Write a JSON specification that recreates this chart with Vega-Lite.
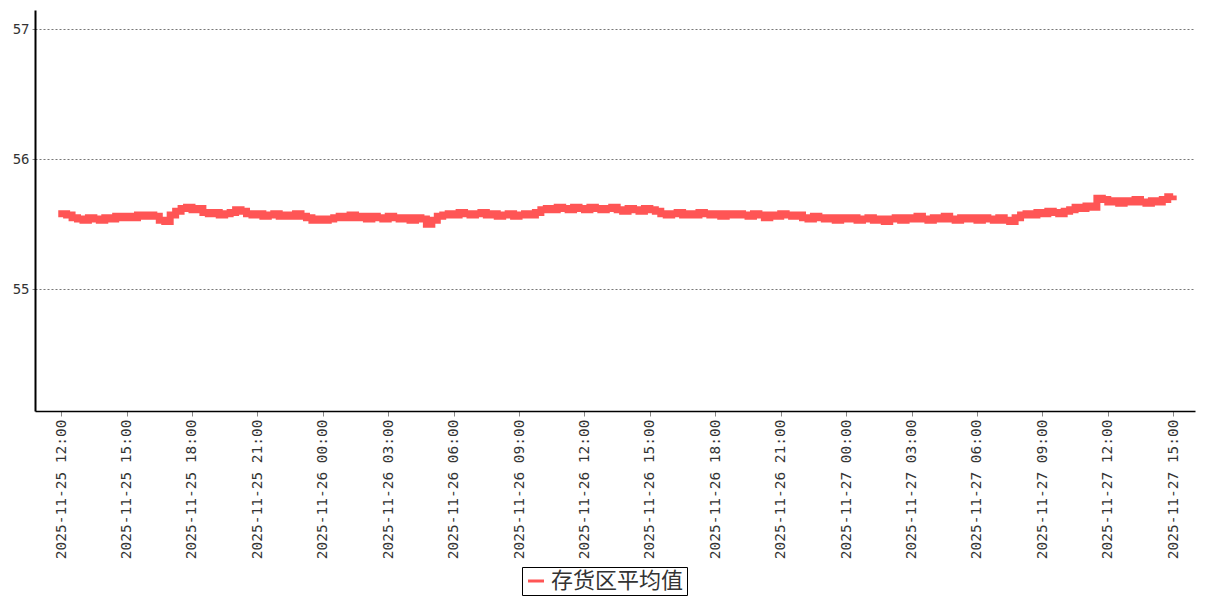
{
  "$schema": "https://vega.github.io/schema/vega-lite/v6.json",
  "width": 1160,
  "height": 401,
  "autosize": {"type": "none"},
  "padding": {"left": 35, "top": 10, "right": 12, "bottom": 189},
  "background": "white",
  "config": {"view": {"stroke": null}},
  "datasets": {
    "d": [
      {"t":"2025-11-25T11:52","v":55.58},{"t":"2025-11-25T12:00","v":55.58},{"t":"2025-11-25T12:15","v":55.57},{"t":"2025-11-25T12:30","v":55.55},{"t":"2025-11-25T12:45","v":55.54},
      {"t":"2025-11-25T13:00","v":55.53},{"t":"2025-11-25T13:15","v":55.55},{"t":"2025-11-25T13:30","v":55.54},{"t":"2025-11-25T13:45","v":55.53},
      {"t":"2025-11-25T14:00","v":55.55},{"t":"2025-11-25T14:15","v":55.54},{"t":"2025-11-25T14:30","v":55.56},{"t":"2025-11-25T14:45","v":55.55},
      {"t":"2025-11-25T15:00","v":55.56},{"t":"2025-11-25T15:15","v":55.55},{"t":"2025-11-25T15:30","v":55.57},{"t":"2025-11-25T15:45","v":55.56},
      {"t":"2025-11-25T16:00","v":55.57},{"t":"2025-11-25T16:15","v":55.56},{"t":"2025-11-25T16:30","v":55.53},{"t":"2025-11-25T16:45","v":55.52},
      {"t":"2025-11-25T17:00","v":55.57},{"t":"2025-11-25T17:15","v":55.60},{"t":"2025-11-25T17:30","v":55.62},{"t":"2025-11-25T17:45","v":55.63},
      {"t":"2025-11-25T18:00","v":55.61},{"t":"2025-11-25T18:15","v":55.62},{"t":"2025-11-25T18:30","v":55.59},{"t":"2025-11-25T18:45","v":55.58},
      {"t":"2025-11-25T19:00","v":55.59},{"t":"2025-11-25T19:15","v":55.57},{"t":"2025-11-25T19:30","v":55.58},{"t":"2025-11-25T19:45","v":55.59},
      {"t":"2025-11-25T20:00","v":55.61},{"t":"2025-11-25T20:15","v":55.60},{"t":"2025-11-25T20:30","v":55.58},{"t":"2025-11-25T20:45","v":55.57},
      {"t":"2025-11-25T21:00","v":55.58},{"t":"2025-11-25T21:15","v":55.56},{"t":"2025-11-25T21:30","v":55.57},{"t":"2025-11-25T21:45","v":55.58},
      {"t":"2025-11-25T22:00","v":55.56},{"t":"2025-11-25T22:15","v":55.57},{"t":"2025-11-25T22:30","v":55.56},{"t":"2025-11-25T22:45","v":55.58},
      {"t":"2025-11-25T23:00","v":55.56},{"t":"2025-11-25T23:15","v":55.55},{"t":"2025-11-25T23:30","v":55.53},{"t":"2025-11-25T23:45","v":55.54},
      {"t":"2025-11-26T00:00","v":55.53},{"t":"2025-11-26T00:15","v":55.54},{"t":"2025-11-26T00:30","v":55.55},{"t":"2025-11-26T00:45","v":55.56},
      {"t":"2025-11-26T01:00","v":55.55},{"t":"2025-11-26T01:15","v":55.57},{"t":"2025-11-26T01:30","v":55.55},{"t":"2025-11-26T01:45","v":55.56},
      {"t":"2025-11-26T02:00","v":55.54},{"t":"2025-11-26T02:15","v":55.56},{"t":"2025-11-26T02:30","v":55.55},{"t":"2025-11-26T02:45","v":55.54},
      {"t":"2025-11-26T03:00","v":55.56},{"t":"2025-11-26T03:15","v":55.55},{"t":"2025-11-26T03:30","v":55.54},{"t":"2025-11-26T03:45","v":55.55},
      {"t":"2025-11-26T04:00","v":55.53},{"t":"2025-11-26T04:15","v":55.55},{"t":"2025-11-26T04:30","v":55.54},{"t":"2025-11-26T04:45","v":55.50},
      {"t":"2025-11-26T05:00","v":55.53},{"t":"2025-11-26T05:15","v":55.56},{"t":"2025-11-26T05:30","v":55.57},{"t":"2025-11-26T05:45","v":55.58},
      {"t":"2025-11-26T06:00","v":55.57},{"t":"2025-11-26T06:15","v":55.59},{"t":"2025-11-26T06:30","v":55.58},{"t":"2025-11-26T06:45","v":55.57},
      {"t":"2025-11-26T07:00","v":55.58},{"t":"2025-11-26T07:15","v":55.59},{"t":"2025-11-26T07:30","v":55.57},{"t":"2025-11-26T07:45","v":55.58},
      {"t":"2025-11-26T08:00","v":55.56},{"t":"2025-11-26T08:15","v":55.57},{"t":"2025-11-26T08:30","v":55.58},{"t":"2025-11-26T08:45","v":55.56},
      {"t":"2025-11-26T09:00","v":55.57},{"t":"2025-11-26T09:15","v":55.58},{"t":"2025-11-26T09:30","v":55.57},{"t":"2025-11-26T09:45","v":55.59},
      {"t":"2025-11-26T10:00","v":55.61},{"t":"2025-11-26T10:15","v":55.62},{"t":"2025-11-26T10:30","v":55.61},{"t":"2025-11-26T10:45","v":55.63},
      {"t":"2025-11-26T11:00","v":55.62},{"t":"2025-11-26T11:15","v":55.61},{"t":"2025-11-26T11:30","v":55.63},{"t":"2025-11-26T11:45","v":55.62},
      {"t":"2025-11-26T12:00","v":55.61},{"t":"2025-11-26T12:15","v":55.63},{"t":"2025-11-26T12:30","v":55.62},{"t":"2025-11-26T12:45","v":55.61},
      {"t":"2025-11-26T13:00","v":55.62},{"t":"2025-11-26T13:15","v":55.63},{"t":"2025-11-26T13:30","v":55.61},{"t":"2025-11-26T13:45","v":55.60},
      {"t":"2025-11-26T14:00","v":55.62},{"t":"2025-11-26T14:15","v":55.61},{"t":"2025-11-26T14:30","v":55.60},{"t":"2025-11-26T14:45","v":55.62},
      {"t":"2025-11-26T15:00","v":55.61},{"t":"2025-11-26T15:15","v":55.60},{"t":"2025-11-26T15:30","v":55.58},{"t":"2025-11-26T15:45","v":55.57},
      {"t":"2025-11-26T16:00","v":55.58},{"t":"2025-11-26T16:15","v":55.59},{"t":"2025-11-26T16:30","v":55.57},{"t":"2025-11-26T16:45","v":55.58},
      {"t":"2025-11-26T17:00","v":55.57},{"t":"2025-11-26T17:15","v":55.59},{"t":"2025-11-26T17:30","v":55.58},{"t":"2025-11-26T17:45","v":55.57},
      {"t":"2025-11-26T18:00","v":55.58},{"t":"2025-11-26T18:15","v":55.56},{"t":"2025-11-26T18:30","v":55.58},{"t":"2025-11-26T18:45","v":55.57},
      {"t":"2025-11-26T19:00","v":55.58},{"t":"2025-11-26T19:15","v":55.57},{"t":"2025-11-26T19:30","v":55.56},{"t":"2025-11-26T19:45","v":55.58},
      {"t":"2025-11-26T20:00","v":55.57},{"t":"2025-11-26T20:15","v":55.55},{"t":"2025-11-26T20:30","v":55.57},{"t":"2025-11-26T20:45","v":55.56},
      {"t":"2025-11-26T21:00","v":55.58},{"t":"2025-11-26T21:15","v":55.57},{"t":"2025-11-26T21:30","v":55.56},{"t":"2025-11-26T21:45","v":55.57},
      {"t":"2025-11-26T22:00","v":55.55},{"t":"2025-11-26T22:15","v":55.54},{"t":"2025-11-26T22:30","v":55.56},{"t":"2025-11-26T22:45","v":55.55},
      {"t":"2025-11-26T23:00","v":55.54},{"t":"2025-11-26T23:15","v":55.55},{"t":"2025-11-26T23:30","v":55.53},{"t":"2025-11-26T23:45","v":55.55},
      {"t":"2025-11-27T00:00","v":55.54},{"t":"2025-11-27T00:15","v":55.55},{"t":"2025-11-27T00:30","v":55.53},{"t":"2025-11-27T00:45","v":55.54},
      {"t":"2025-11-27T01:00","v":55.55},{"t":"2025-11-27T01:15","v":55.53},{"t":"2025-11-27T01:30","v":55.54},{"t":"2025-11-27T01:45","v":55.52},
      {"t":"2025-11-27T02:00","v":55.54},{"t":"2025-11-27T02:15","v":55.55},{"t":"2025-11-27T02:30","v":55.53},{"t":"2025-11-27T02:45","v":55.55},
      {"t":"2025-11-27T03:00","v":55.54},{"t":"2025-11-27T03:15","v":55.56},{"t":"2025-11-27T03:30","v":55.54},{"t":"2025-11-27T03:45","v":55.53},
      {"t":"2025-11-27T04:00","v":55.55},{"t":"2025-11-27T04:15","v":55.54},{"t":"2025-11-27T04:30","v":55.56},{"t":"2025-11-27T04:45","v":55.54},
      {"t":"2025-11-27T05:00","v":55.53},{"t":"2025-11-27T05:15","v":55.55},{"t":"2025-11-27T05:30","v":55.54},{"t":"2025-11-27T05:45","v":55.55},
      {"t":"2025-11-27T06:00","v":55.53},{"t":"2025-11-27T06:15","v":55.55},{"t":"2025-11-27T06:30","v":55.54},{"t":"2025-11-27T06:45","v":55.53},
      {"t":"2025-11-27T07:00","v":55.55},{"t":"2025-11-27T07:15","v":55.53},{"t":"2025-11-27T07:30","v":55.52},{"t":"2025-11-27T07:45","v":55.55},
      {"t":"2025-11-27T08:00","v":55.57},{"t":"2025-11-27T08:15","v":55.58},{"t":"2025-11-27T08:30","v":55.57},{"t":"2025-11-27T08:45","v":55.59},
      {"t":"2025-11-27T09:00","v":55.58},{"t":"2025-11-27T09:15","v":55.60},{"t":"2025-11-27T09:30","v":55.59},{"t":"2025-11-27T09:45","v":55.58},
      {"t":"2025-11-27T10:00","v":55.60},{"t":"2025-11-27T10:15","v":55.61},{"t":"2025-11-27T10:30","v":55.63},{"t":"2025-11-27T10:45","v":55.62},
      {"t":"2025-11-27T11:00","v":55.64},{"t":"2025-11-27T11:15","v":55.63},{"t":"2025-11-27T11:30","v":55.70},{"t":"2025-11-27T11:45","v":55.69},
      {"t":"2025-11-27T12:00","v":55.67},{"t":"2025-11-27T12:15","v":55.68},{"t":"2025-11-27T12:30","v":55.66},{"t":"2025-11-27T12:45","v":55.68},
      {"t":"2025-11-27T13:00","v":55.67},{"t":"2025-11-27T13:15","v":55.69},{"t":"2025-11-27T13:30","v":55.67},{"t":"2025-11-27T13:45","v":55.66},
      {"t":"2025-11-27T14:00","v":55.68},{"t":"2025-11-27T14:15","v":55.67},{"t":"2025-11-27T14:30","v":55.69},{"t":"2025-11-27T14:45","v":55.71},
      {"t":"2025-11-27T15:00","v":55.72}
    ]
  },
  "data": {"name": "d"},
  "mark": {"type": "line", "strokeWidth": 7, "interpolate": "step-after"},
  "encoding": {
    "x": {
      "field": "t",
      "type": "temporal",
      "scale": {"domain": ["2025-11-25T10:48", "2025-11-27T16:00"]},
      "axis": {
        "title": null,
        "format": "%Y-%m-%d %H:%M",
        "values": [
          "2025-11-25T12:00", "2025-11-25T15:00", "2025-11-25T18:00", "2025-11-25T21:00",
          "2025-11-26T00:00", "2025-11-26T03:00", "2025-11-26T06:00", "2025-11-26T09:00",
          "2025-11-26T12:00", "2025-11-26T15:00", "2025-11-26T18:00", "2025-11-26T21:00",
          "2025-11-27T00:00", "2025-11-27T03:00", "2025-11-27T06:00", "2025-11-27T09:00",
          "2025-11-27T12:00", "2025-11-27T15:00"
        ],
        "labelAngle": 270,
        "labelAlign": "right",
        "labelBaseline": "middle",
        "labelOverlap": false,
        "labelFlush": false,
        "labelFont": "DejaVu Sans Mono",
        "labelFontSize": 14.5,
        "labelColor": "#333333",
        "labelPadding": 3,
        "domainColor": "#000000",
        "domainWidth": 1.5,
        "tickColor": "#888888",
        "tickSize": 5,
        "grid": false
      }
    },
    "y": {
      "field": "v",
      "type": "quantitative",
      "scale": {"domain": [54.06, 57.15], "nice": false, "zero": false},
      "axis": {
        "title": null,
        "values": [55, 56, 57],
        "labelFont": "DejaVu Sans Mono",
        "labelFontSize": 14,
        "labelColor": "#333333",
        "labelPadding": 3,
        "domainColor": "#000000",
        "domainWidth": 2,
        "tickColor": "#888888",
        "tickSize": 3,
        "grid": true,
        "gridColor": "#777777",
        "gridDash": [2, 2],
        "gridWidth": 1
      }
    },
    "color": {
      "datum": "存货区平均值",
      "type": "nominal",
      "scale": {"domain": ["存货区平均值"], "range": ["#ff5555"]},
      "legend": {
        "title": null,
        "orient": "none",
        "legendX": 487,
        "legendY": 557,
        "symbolType": "stroke",
        "symbolStrokeWidth": 3,
        "symbolSize": 256,
        "labelFont": "Noto Sans CJK SC",
        "labelFontSize": 22,
        "labelColor": "#333333",
        "labelOffset": 4,
        "padding": 3,
        "strokeColor": "#000000",
        "fillColor": "#ffffff",
        "cornerRadius": 0
      }
    }
  }
}
